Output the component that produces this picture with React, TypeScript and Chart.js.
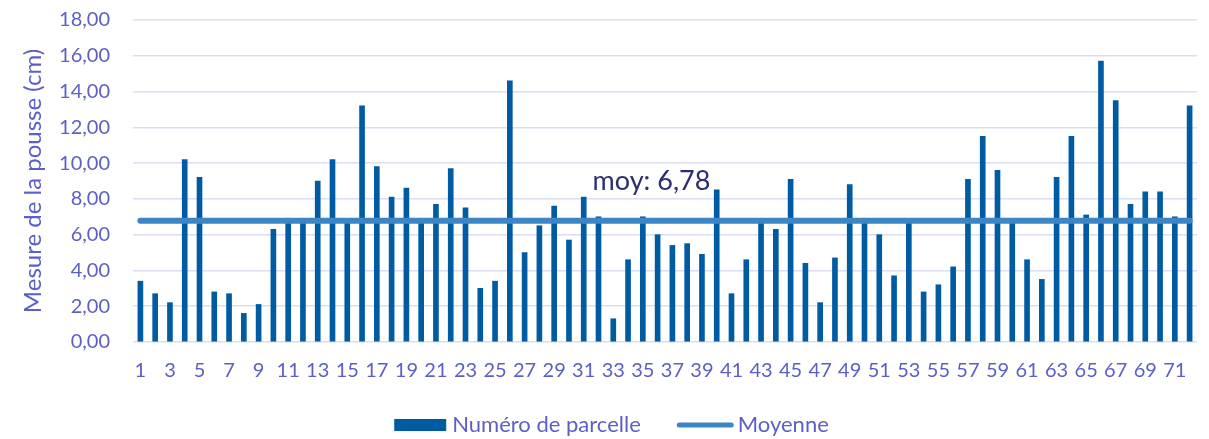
import React, { useEffect, useRef } from "react";
import { Chart, registerables } from "chart.js";

Chart.register(...registerables);

const categories: string[] = Array.from({ length: 72 }, (_, i) => String(i + 1));

const mesures: number[] = [
  3.4, 2.7, 2.2, 10.2, 9.2, 2.8, 2.7, 1.6, 2.1, 6.3,
  6.8, 6.8, 9.0, 10.2, 6.7, 13.2, 9.8, 8.1, 8.6, 6.7,
  7.7, 9.7, 7.5, 3.0, 3.4, 14.6, 5.0, 6.5, 7.6, 5.7,
  8.1, 7.0, 1.3, 4.6, 7.0, 6.0, 5.4, 5.5, 4.9, 8.5,
  2.7, 4.6, 6.7, 6.3, 9.1, 4.4, 2.2, 4.7, 8.8, 6.7,
  6.0, 3.7, 6.7, 2.8, 3.2, 4.2, 9.1, 11.5, 9.6, 6.7,
  4.6, 3.5, 9.2, 11.5, 7.1, 15.7, 13.5, 7.7, 8.4, 8.4,
  7.0, 13.2,
];

const moyenneValue = 6.78;
const moyenne: number[] = categories.map(() => moyenneValue);

const yTicks: number[] = [0, 2, 4, 6, 8, 10, 12, 14, 16, 18];

const seriesNames: string[] = ["Numéro de parcelle", "Moyenne"];
const labelText = "moy: 6,78";
const labelAnchorIndex = 30.6;
const labelAnchorValue = 8.5;

const FONT = "Lato, 'Open Sans', sans-serif";
const TICK_COLOR = "#5b5fc7";
const BAR_COLOR = "#005ca2";
const LINE_COLOR = "#3d86c6";
const GRID_COLOR = "#dcdcf2";
const LABEL_COLOR = "#2c2f6f";

const moyLabelPlugin = {
  id: "moyLabel",
  afterDatasetsDraw(chart: any) {
    const { ctx, scales } = chart;
    const x = scales.x.getPixelForValue(labelAnchorIndex);
    const y = scales.y.getPixelForValue(labelAnchorValue);
    ctx.save();
    ctx.font = `27px ${FONT}`;
    ctx.fillStyle = LABEL_COLOR;
    ctx.textAlign = "left";
    ctx.textBaseline = "alphabetic";
    ctx.fillText(labelText, x, y);
    ctx.restore();
  },
};

const legendPlugin = {
  id: "customLegend",
  afterDraw(chart: any) {
    const { ctx, width, height } = chart;
    ctx.save();
    ctx.font = `22px ${FONT}`;
    const boxW = 52;
    const boxH = 12;
    const lineW = 57;
    const gapText = 6;
    const gapItems = 36;
    const w0 = ctx.measureText(seriesNames[0]).width;
    const w1 = ctx.measureText(seriesNames[1]).width;
    const total = boxW + gapText + w0 + gapItems + lineW + 4 + w1;
    let x = width / 2 - total / 2 + 7;
    const cy = height - 14;
    ctx.fillStyle = BAR_COLOR;
    ctx.fillRect(x, cy - boxH / 2, boxW, boxH);
    x += boxW + gapText;
    ctx.fillStyle = TICK_COLOR;
    ctx.textBaseline = "middle";
    ctx.textAlign = "left";
    ctx.fillText(seriesNames[0], x, cy);
    x += w0 + gapItems;
    ctx.strokeStyle = LINE_COLOR;
    ctx.lineWidth = 5;
    ctx.lineCap = "round";
    ctx.beginPath();
    ctx.moveTo(x + 2.5, cy);
    ctx.lineTo(x + lineW - 2.5, cy);
    ctx.stroke();
    x += lineW + 4;
    ctx.fillText(seriesNames[1], x, cy);
    ctx.restore();
  },
};

export default function App() {
  const ref = useRef<HTMLCanvasElement | null>(null);

  useEffect(() => {
    if (!ref.current) return;
    const chart = new Chart(ref.current, {
      type: "bar",
      data: {
        labels: categories,
        datasets: [
          {
            type: "bar",
            label: seriesNames[0],
            data: mesures,
            backgroundColor: BAR_COLOR,
            barThickness: 5,
            order: 2,
          } as any,
          {
            type: "line",
            label: seriesNames[1],
            data: moyenne,
            borderColor: LINE_COLOR,
            backgroundColor: LINE_COLOR,
            borderWidth: 6,
            borderCapStyle: "round",
            pointRadius: 0,
            order: 1,
          } as any,
        ],
      },
      options: {
        animation: false,
        responsive: true,
        maintainAspectRatio: false,
        layout: { padding: { top: 0, right: 4, left: 10, bottom: 56 } },
        plugins: {
          tooltip: { enabled: false },
          legend: { display: false },
        },
        scales: {
          x: {
            grid: { display: false, drawTicks: false },
            border: { display: false },
            afterFit: (axis: any) => {
              axis.height = 41;
              axis.paddingLeft = 0;
              axis.paddingRight = 0;
            },
            ticks: {
              color: TICK_COLOR,
              font: { family: FONT, size: 20 },
              autoSkip: false,
              maxRotation: 0,
              padding: 17,
              callback: (_v: any, i: number) => (i % 2 === 0 ? categories[i] : ""),
            },
          },
          y: {
            min: 0,
            max: 18,
            afterBuildTicks: (axis: any) => {
              axis.ticks = yTicks.map((v) => ({ value: v }));
            },
            afterFit: (axis: any) => {
              axis.width = 115;
              axis.paddingTop = 12;
              axis.paddingBottom = 12;
            },
            grid: { color: GRID_COLOR, lineWidth: 1.5, drawTicks: false },
            border: { display: false },
            ticks: {
              color: TICK_COLOR,
              font: { family: FONT, size: 20 },
              padding: 23,
              callback: (v: any) => Number(v).toFixed(2).replace(".", ","),
            },
            title: {
              display: true,
              text: "Mesure de la pousse (cm)",
              color: TICK_COLOR,
              font: { family: FONT, size: 24 },
              padding: { top: 1, bottom: 13 },
            },
          },
        },
      },
      plugins: [moyLabelPlugin, legendPlugin],
    });
    return () => chart.destroy();
  }, []);

  return (
    <div style={{ position: "relative", width: 1193, height: 431 }}>
      <canvas ref={ref} />
    </div>
  );
}
